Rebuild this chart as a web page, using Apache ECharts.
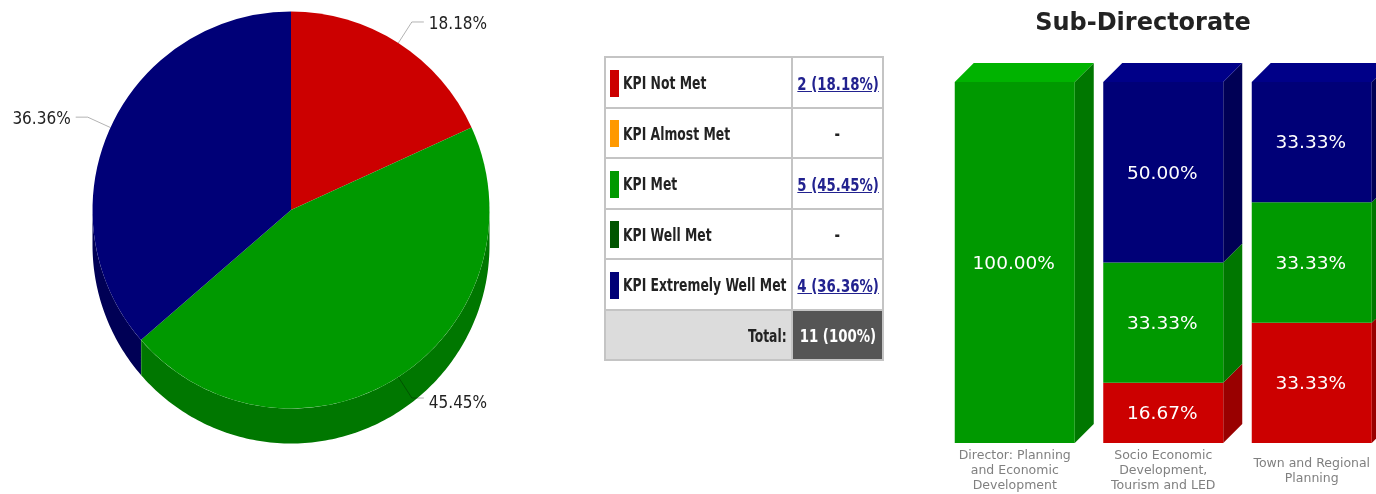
<!DOCTYPE html>
<html>
<head>
<meta charset="utf-8">
<title>KPI status</title>
<script src="https://cdn.jsdelivr.net/npm/echarts@6/dist/echarts.min.js"></script>
<style>
  html, body { margin: 0; padding: 0; background: #fff; overflow: hidden; }
  #main { position: absolute; left: 0; top: 0; width: 1376px; height: 494px; }
  #kpiTable {
    position: absolute; left: 604px; top: 56px; width: 280px; height: 303px;
    border-collapse: collapse; table-layout: fixed;
    font: bold 17px "DejaVu Sans Condensed", "DejaVu Sans", sans-serif; color: #222;
  }
  #kpiTable td { border: 2px solid #c4c4c4; padding: 0; height: 48.5px; white-space: nowrap; }
  #kpiTable td > span { position: relative; top: 1px; }
  #kpiTable .name { width: 187px; padding-left: 4px; box-sizing: border-box; }
  #kpiTable .swatch { display: inline-block; width: 9px; height: 27px; margin-right: 4px; vertical-align: middle; }
  #kpiTable .val { text-align: center; }
  #kpiTable a { color: #22228f; text-decoration: underline; position: relative; left: -2px; }
  #kpiTable .totalName { background: #dcdcdc; text-align: right; padding-right: 4px; }
  #kpiTable .totalVal { background: #555; color: #fff; text-align: center; }
  /* the text in the picture is squeezed sideways */
  .txt { display: inline-block; vertical-align: middle; transform: scaleX(0.81); transform-origin: left center; }
  .val .txt, .totalVal .txt { transform: scaleX(0.87); transform-origin: center center; }
  .totalName .txt { transform-origin: right center; }
</style>
</head>
<body>
<div id="main"></div>
<table id="kpiTable"></table>
<script>
// -- pie --
const pieNames = ['KPI Not Met', 'KPI Met', 'KPI Extremely Well Met'];
const pieValues = [2, 5, 4];
const pieColors = ['#cc0000', '#009900', '#000077'];
const pieSideColors = ['#990000', '#007700', '#000055'];

// -- table --
const kpiNames = ['KPI Not Met', 'KPI Almost Met', 'KPI Met', 'KPI Well Met', 'KPI Extremely Well Met'];
const kpiColors = ['#cc0000', '#ff9900', '#009900', '#005500', '#000077'];
const kpiCells = ['2 (18.18%)', '-', '5 (45.45%)', '-', '4 (36.36%)'];
const totalCell = '11 (100%)';

// -- stacked bars --
const subCategories = [
  'Director: Planning\nand Economic\nDevelopment',
  'Socio Economic\nDevelopment,\nTourism and LED',
  'Town and Regional\nPlanning'
];
const notMetShare = [0, 16.67, 33.33];
const metShare = [100, 33.33, 33.33];
const extremelyShare = [0, 50, 33.33];

const stackDefs = [
  {name: 'KPI Not Met', values: notMetShare, front: '#cc0000', side: '#990000', top: '#dd0000'},
  {name: 'KPI Met', values: metShare, front: '#009900', side: '#007700', top: '#00b300'},
  {name: 'KPI Extremely Well Met', values: extremelyShare, front: '#000077', side: '#000055', top: '#000088'}
];

const tableRows = kpiNames.map(function (name, i) {
  let cell = kpiCells[i] === '-' ? '-' : '<a href="#">' + kpiCells[i] + '</a>';
  return '<tr><td class="name"><span class="swatch" style="background:' + kpiColors[i] + '"></span><span class="txt">' + name + '</span></td>' +
    '<td class="val"><span class="txt">' + cell + '</span></td></tr>';
});
tableRows.push('<tr><td class="totalName"><span class="txt">Total:</span></td><td class="totalVal"><span class="txt">' + totalCell + '</span></td></tr>');
document.getElementById('kpiTable').innerHTML = tableRows.join('');

const pieCx = 291, pieCy = 210, pieR = 198.5, pieDepth = 35;
const barW = 120, barDepth = 19;
const pieTotal = pieValues.reduce(function (a, b) { return a + b; }, 0);

// side wall of the pie, only the part facing the viewer (3 o'clock round to 9 o'clock)
function renderPieWall(params, api) {
  let from = api.value(0) / pieTotal * 360;
  let to = api.value(1) / pieTotal * 360;
  from = Math.max(from, 90);
  to = Math.min(to, 270);
  if (to <= from) {
    return null;
  }
  let upper = [], lower = [];
  for (let a = from; a < to + 0.5; a += 1) {
    let rad = Math.min(a, to) * Math.PI / 180;
    let x = pieCx + pieR * Math.sin(rad);
    let y = pieCy - pieR * Math.cos(rad);
    upper.push([x, y]);
    lower.unshift([x, y + pieDepth]);
  }
  return {
    type: 'polygon',
    shape: {points: upper.concat(lower)},
    style: {fill: pieSideColors[params.dataIndex]}
  };
}

let pieSum = 0;
const pieWallRows = pieValues.map(function (v) {
  let row = [pieSum, pieSum + v];
  pieSum += v;
  return row;
});

function renderBlock(def) {
  return function (params, api) {
    let cx = api.coord([api.value(0), 0])[0];
    let yTop = api.coord([api.value(0), api.value(2)])[1];
    let yBottom = api.coord([api.value(0), api.value(1)])[1];
    let x0 = cx - barW / 2, x1 = cx + barW / 2;
    let children = [
      {
        type: 'polygon',
        shape: {points: [[x1, yTop], [x1 + barDepth, yTop - barDepth], [x1 + barDepth, yBottom - barDepth], [x1, yBottom]]},
        style: {fill: def.side}
      },
      {
        type: 'rect',
        shape: {x: x0, y: yTop, width: barW, height: yBottom - yTop},
        style: {fill: def.front}
      },
      {
        type: 'text',
        style: {
          text: api.value(3).toFixed(2) + '%',
          x: cx - 1, y: (yTop + yBottom) / 2 + 1.5,
          fill: '#fff',
          align: 'center', verticalAlign: 'middle',
          font: '18.5px "DejaVu Sans", sans-serif'
        }
      }
    ];
    // only the block that reaches the top of the stack shows its lid
    if (api.value(2) >= 99.9) {
      children.splice(1, 0, {
        type: 'polygon',
        shape: {points: [[x0, yTop], [x0 + barDepth, yTop - barDepth], [x1 + barDepth, yTop - barDepth], [x1, yTop]]},
        style: {fill: def.top}
      });
    }
    return {type: 'group', children: children};
  };
}

// values are shares of 100, blocks start where the one below ends
let running = subCategories.map(function () { return 0; });
const barSeries = stackDefs.map(function (def) {
  let rows = [];
  def.values.forEach(function (v, i) {
    if (v > 0) {
      let end = running[i] + v;
      rows.push([i, running[i], end > 99.9 ? 100 : end, v]);
      running[i] = end;
    }
  });
  return {
    type: 'custom',
    name: def.name,
    silent: true,
    clip: false,
    renderItem: renderBlock(def),
    encode: {x: 0, y: [1, 2]},
    data: rows
  };
});

const pieWallSeries = {
  type: 'custom',
  coordinateSystem: 'none',
  silent: true,
  renderItem: renderPieWall,
  data: pieWallRows
};

const pieSeries = {
  type: 'pie',
  center: [pieCx, pieCy],
  radius: pieR,
  startAngle: 90,
  silent: true,
  avoidLabelOverlap: false,
  data: pieValues.map(function (v, i) {
    return {name: pieNames[i], value: v, itemStyle: {color: pieColors[i]}};
  }),
  label: {
    formatter: function (p) {
      return (p.value / pieTotal * 100).toFixed(2) + '%';
    },
    fontFamily: '"DejaVu Sans Condensed", "DejaVu Sans", sans-serif',
    fontSize: 17,
    color: '#222'
  },
  labelLine: {
    length: 25,
    length2: 12,
    lineStyle: {color: 'rgba(0,0,0,0.3)', width: 1}
  },
  labelLayout: function (p) {
    return {dy: p.dataIndex === 1 ? 6 : 2.5};
  }
};

const option = {
  animation: false,
  title: {
    text: 'Sub-Directorate',
    left: 1138,
    top: 7,
    textAlign: 'center',
    textStyle: {fontFamily: '"DejaVu Sans", sans-serif', fontSize: 24, fontWeight: 'bold', color: '#222'}
  },
  grid: {left: 940.5, top: 82, width: 445.5, height: 361, outerBoundsMode: 'none'},
  xAxis: {
    type: 'category',
    data: subCategories,
    axisLine: {show: false},
    axisTick: {show: false},
    axisLabel: {
      interval: 0,
      margin: 28,
      verticalAlign: 'middle',
      lineHeight: 15,
      fontFamily: '"DejaVu Sans", sans-serif',
      fontSize: 12.5,
      color: '#808080'
    }
  },
  yAxis: {type: 'value', min: 0, max: 100, show: false},
  series: [pieWallSeries, pieSeries].concat(barSeries)
};

let myChart = echarts.init(document.getElementById('main'));
myChart.setOption(option);
</script>
</body>
</html>
